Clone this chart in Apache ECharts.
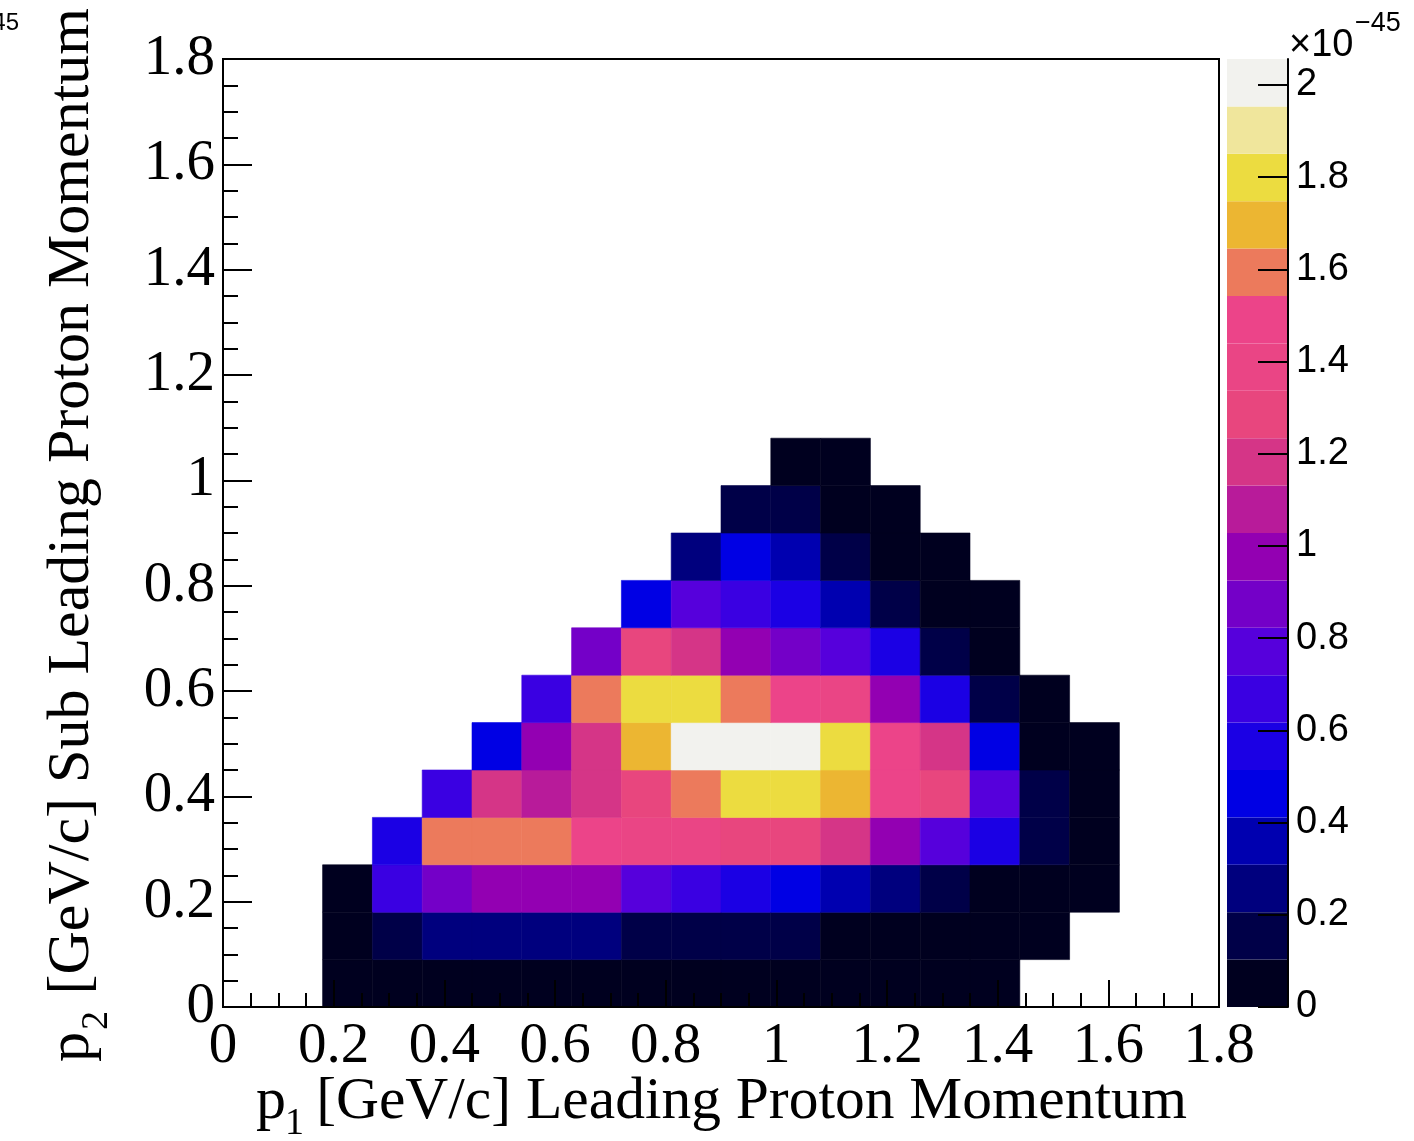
<!DOCTYPE html>
<html>
<head>
<meta charset="utf-8">
<script src="https://cdn.jsdelivr.net/npm/echarts@6/dist/echarts.min.js"></script>
<style>
html, body { margin: 0; padding: 0; background: #fff; }
#chart { width: 1414px; height: 1141px; }
</style>
</head>
<body>
<div id="chart"></div>
<script>
// bin width in GeV/c, both axes
var BIN_WIDTH = 0.09;
// colour scale top, units of 1e-45
var Z_MAX = 2.056;
var COLOR_TICKS = [0, 0.2, 0.4, 0.6, 0.8, 1, 1.2, 1.4, 1.6, 1.8, 2];

// 20 contour colours, bottom to top
var PALETTE = [
    '#00001f', '#000048', '#00007e', '#0000b0', '#0000e4',
    '#1b00e4', '#3a00e2', '#5600dc', '#7400c8', '#9300b2',
    '#b81b9a', '#d53587', '#e8467e', '#ea4585', '#ec4489',
    '#ec7a5c', '#ecb632', '#ecdc40', '#f0e69c', '#f2f2ee'
];

// cross section per bin (x1e-45), one array per p2 bin, p1 bins left to right
var _ = null;
var row0  = [_, _, .04, .06, .07, .07, .08, .08, .08, .08, .07, .07, .06, .05, .04, .03, _, _, _, _];
var row1  = [_, _, .09, .15, .24, .25, .25, .24, .18, .17, .16, .14, .09, .08, .07, .05, .03, _, _, _];
var row2  = [_, _, .08, .65, .86, .95, .97, .96, .75, .66, .55, .45, .33, .24, .14, .09, .06, .04, _, _];
var row3  = [_, _, _, .54, 1.60, 1.62, 1.60, 1.48, 1.37, 1.35, 1.30, 1.28, 1.17, .95, .74, .55, .12, .05, _, _];
var row4  = [_, _, _, _, .64, 1.19, 1.09, 1.18, 1.28, 1.58, 1.79, 1.80, 1.68, 1.47, 1.30, .75, .13, .06, _, _];
var row5  = [_, _, _, _, _, .46, .96, 1.17, 1.68, 2.03, 2.056, 2.02, 1.78, 1.48, 1.16, .44, .09, .05, _, _];
var row6  = [_, _, _, _, _, _, .66, 1.58, 1.79, 1.78, 1.57, 1.46, 1.37, .96, .56, .14, .05, _, _, _];
var row7  = [_, _, _, _, _, _, _, .86, 1.27, 1.16, .97, .85, .76, .55, .13, .06, _, _, _, _];
var row8  = [_, _, _, _, _, _, _, _, .45, .75, .65, .56, .35, .14, .07, .05, _, _, _, _];
var row9  = [_, _, _, _, _, _, _, _, _, .24, .44, .34, .14, .07, .05, _, _, _, _, _];
var row10 = [_, _, _, _, _, _, _, _, _, _, .13, .12, .06, .04, _, _, _, _, _, _];
var row11 = [_, _, _, _, _, _, _, _, _, _, _, .05, .04, _, _, _, _, _, _, _];
var ROWS = [row0, row1, row2, row3, row4, row5, row6, row7, row8, row9, row10, row11];

var cells = [];
ROWS.forEach(function (row, j) {
    row.forEach(function (v, i) {
        if (v !== null) cells.push([i * BIN_WIDTH, j * BIN_WIDTH, v]);
    });
});

var step = Z_MAX / PALETTE.length;
var pieces = [];
var bands = [];
for (var k = 0; k < PALETTE.length; k++) {
    var p = { gte: k * step, color: PALETTE[k] };
    if (k === PALETTE.length - 1) p.lte = Z_MAX; else p.lt = (k + 1) * step;
    pieces.push(p);
    bands.push([k * step, (k + 1) * step, (k + 0.5) * step]);
}

var serif = 'Liberation Serif';
var sans = 'Liberation Sans';
var black = { color: '#000', width: 2 };

function binRect(params, api) {
    var x0 = api.value(0), y0 = api.value(1);
    var a = api.coord([x0, y0]);
    var b = api.coord([x0 + BIN_WIDTH, y0 + BIN_WIDTH]);
    var c = api.visual('color');
    return {
        type: 'rect',
        shape: { x: a[0], y: b[1], width: b[0] - a[0], height: a[1] - b[1] },
        style: { fill: c, stroke: c, lineWidth: 0.6 }
    };
}

function bandRect(params, api) {
    var a = api.coord([0, api.value(0)]);
    var b = api.coord([1, api.value(1)]);
    return {
        type: 'rect',
        shape: { x: a[0], y: b[1], width: b[0] - a[0], height: a[1] - b[1] },
        style: { fill: api.visual('color') }
    };
}

var option = {
    animation: false,
    backgroundColor: '#fff',
    grid: [
        { left: 223, top: 59, width: 996, height: 948, show: true, borderColor: '#000', borderWidth: 2, backgroundColor: 'transparent' },
        { left: 1227, top: 59, width: 61, height: 948 }
    ],
    xAxis: [{
        gridIndex: 0, type: 'value', min: 0, max: 1.8, interval: 0.2, z: 10,
        axisLine: { onZero: false, lineStyle: black },
        axisTick: { inside: true, length: 27, lineStyle: black },
        minorTick: { show: true, splitNumber: 4, length: 14, lineStyle: black },
        splitLine: { show: false },
        axisLabel: { color: '#000', fontFamily: serif, fontSize: 57, margin: 12, showMinLabel: true, showMaxLabel: true }
    }, {
        gridIndex: 1, type: 'value', min: 0, max: 1, show: false
    }],
    yAxis: [{
        gridIndex: 0, type: 'value', min: 0, max: 1.8, interval: 0.2, z: 10,
        axisLine: { onZero: false, lineStyle: black },
        axisTick: { inside: true, length: 29, lineStyle: black },
        minorTick: { show: true, splitNumber: 4, length: 15, lineStyle: black },
        splitLine: { show: false },
        axisLabel: { color: '#000', fontFamily: serif, fontSize: 57, margin: 8, showMinLabel: true, showMaxLabel: true }
    }, {
        gridIndex: 1, type: 'value', position: 'right', min: 0, max: Z_MAX, z: 10,
        axisLine: { onZero: false, lineStyle: black },
        axisTick: { inside: true, length: 30, lineStyle: black, customValues: COLOR_TICKS },
        splitLine: { show: false },
        axisLabel: { color: '#000', fontFamily: sans, fontSize: 38, margin: 8, customValues: COLOR_TICKS }
    }],
    visualMap: {
        type: 'piecewise', show: false, dimension: 2, seriesIndex: [0, 1], pieces: pieces
    },
    series: [{
        type: 'custom',
        xAxisIndex: 0, yAxisIndex: 0,
        renderItem: binRect,
        data: cells
    }, {
        type: 'custom',
        xAxisIndex: 1, yAxisIndex: 1,
        renderItem: bandRect,
        data: bands
    }],
    graphic: [
        // x title
        { type: 'text', x: 256, y: 1102, style: { text: 'p', font: '60px "Liberation Serif"', fill: '#000', textAlign: 'left', textVerticalAlign: 'middle' } },
        { type: 'text', x: 285, y: 1124, style: { text: '1', font: '38px "Liberation Serif"', fill: '#000', textAlign: 'left', textVerticalAlign: 'middle' } },
        { type: 'text', x: 1187, y: 1102, style: { text: '[GeV/c] Leading Proton Momentum', font: '59.5px "Liberation Serif"', fill: '#000', textAlign: 'right', textVerticalAlign: 'middle' } },
        // y title
        { type: 'text', x: 72, y: 1062, rotation: Math.PI / 2, style: { text: 'p', font: '60px "Liberation Serif"', fill: '#000', textAlign: 'left', textVerticalAlign: 'middle' } },
        { type: 'text', x: 97, y: 1030, rotation: Math.PI / 2, style: { text: '2', font: '38px "Liberation Serif"', fill: '#000', textAlign: 'left', textVerticalAlign: 'middle' } },
        { type: 'text', x: 72, y: 8, rotation: Math.PI / 2, style: { text: '[GeV/c] Sub Leading Proton Momentum', font: '60px "Liberation Serif"', fill: '#000', textAlign: 'right', textVerticalAlign: 'middle' } },
        // colour scale exponent
        { type: 'text', x: 1289, y: 46, style: { text: '\u00d710', font: '38px "Liberation Sans"', fill: '#000', textAlign: 'left', textVerticalAlign: 'middle' } },
        { type: 'text', x: 1355, y: 24, style: { text: '\u221245', font: '27px "Liberation Sans"', fill: '#000', textAlign: 'left', textVerticalAlign: 'middle' } },
        { type: 'text', x: 19, y: 23, style: { text: '45', font: '24px "Liberation Sans"', fill: '#000', textAlign: 'right', textVerticalAlign: 'middle' } }
    ]
};

var myChart = echarts.init(document.getElementById('chart'));
myChart.setOption(option);
</script>
</body>
</html>
